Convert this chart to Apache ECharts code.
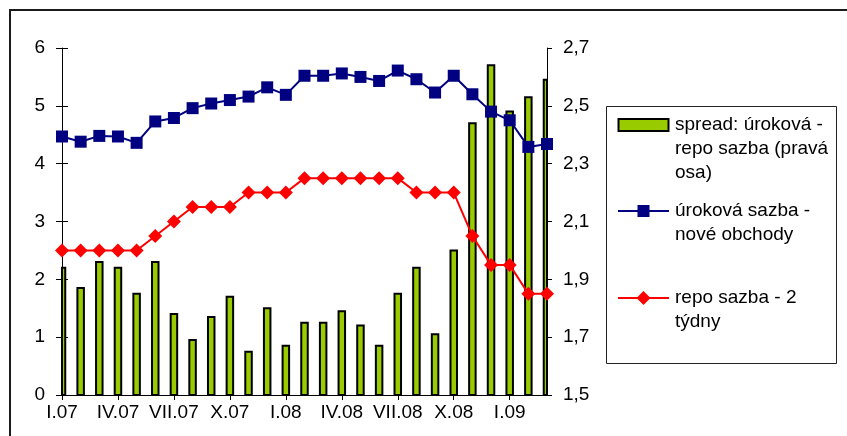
<!DOCTYPE html>
<html>
<head>
<meta charset="utf-8">
<script src="https://cdn.jsdelivr.net/npm/echarts@6/dist/echarts.min.js"></script>
<style>
  html, body { margin: 0; padding: 0; background: #fff; }
  #chart { width: 847px; height: 436px; }
</style>
</head>
<body>
<div id="chart"></div>
<script>
// Months, January 2007 – March 2009
const months = [
  'I.07','II.07','III.07','IV.07','V.07','VI.07','VII.07','VIII.07','IX.07','X.07','XI.07','XII.07',
  'I.08','II.08','III.08','IV.08','V.08','VI.08','VII.08','VIII.08','IX.08','X.08','XI.08','XII.08',
  'I.09','II.09','III.09'
];

// Interest rate on new business (left axis, %)
const lendingRate = [4.47,4.38,4.48,4.47,4.36,4.73,4.79,4.96,5.04,5.10,5.16,5.32,5.19,5.52,
                     5.52,5.56,5.50,5.43,5.61,5.46,5.23,5.52,5.20,4.90,4.75,4.29,4.34];

// 2-week repo rate (left axis, %)
const repoRate = [2.50,2.50,2.50,2.50,2.50,2.75,3.00,3.25,3.25,3.25,3.50,3.50,3.50,3.75,
                  3.75,3.75,3.75,3.75,3.75,3.50,3.50,3.50,2.75,2.25,2.25,1.75,1.75];

// Spread between the two (right axis, p.p.)
const spread = [1.94,1.87,1.96,1.94,1.85,1.96,1.78,1.69,1.77,1.84,1.65,1.80,1.67,1.75,
                1.75,1.79,1.74,1.67,1.85,1.94,1.71,2.00,2.44,2.64,2.48,2.53,2.59];

// Axis ranges
const leftMin = 0, leftMax = 6, leftStep = 1;
const rightBase = 1.5, rightTop = 2.7, rightStep = 0.2;

// Legend entries
const seriesNames = [
  'spread: úroková -\nrepo sazba (pravá\nosa)',
  'úroková sazba -\nnové obchody',
  'repo sazba - 2\ntýdny'
];
const barColor = '#99CC00';
const blueColor = '#000080';
const redColor = '#FF0000';

const FONT = '"Liberation Sans", Arial, sans-serif';
const FS = 19;
const BAR_W = 6.5;

// The right axis is drawn relative to its base so that ticks start on 1,5
const spreadData = spread.map((v, i) => [i, +(v - rightBase).toFixed(4)]);
const fmtComma = v => (v + rightBase).toFixed(1).replace('.', ',');

const chart = echarts.init(document.getElementById('chart'), null, { renderer: 'canvas' });

const axisLineStyle = { color: '#000', width: 1 };

// Columns centred on each month, cut at the plot edges
function renderSpreadBar(params, api) {
  const idx = api.value(0);
  const top = api.coord([idx, api.value(1)]);
  const base = api.coord([idx, 0]);
  const cs = params.coordSys;
  const shape = echarts.graphic.clipRectByRect(
    { x: top[0] - BAR_W / 2, y: top[1], width: BAR_W, height: base[1] - top[1] },
    { x: cs.x, y: cs.y, width: cs.width, height: cs.height }
  );
  if (!shape) return null;
  return {
    type: 'rect',
    shape: shape,
    style: { fill: barColor, stroke: '#000', lineWidth: 2 }
  };
}

// Legend (drawn as graphic elements so that the marker sits beside the first text line)
const LX = 618, LTX = 675;
const legendRows = [125, 211, 298];
const legendGraphics = [
  { type: 'rect', shape: { x: 606.5, y: 106.5, width: 230, height: 257 },
    style: { fill: '#fff', stroke: '#222', lineWidth: 1 }, z: 10 },
  { type: 'rect', shape: { x: LX + 0.5, y: legendRows[0] - 6, width: 50, height: 12 },
    style: { fill: barColor, stroke: '#000', lineWidth: 2 }, z: 11 },
  { type: 'line', shape: { x1: LX, y1: legendRows[1], x2: LX + 51, y2: legendRows[1] },
    style: { stroke: blueColor, lineWidth: 2 }, z: 11 },
  { type: 'rect', shape: { x: LX + 25.5 - 6, y: legendRows[1] - 6, width: 12, height: 12 },
    style: { fill: blueColor }, z: 12 },
  { type: 'line', shape: { x1: LX, y1: legendRows[2], x2: LX + 51, y2: legendRows[2] },
    style: { stroke: redColor, lineWidth: 2 }, z: 11 },
  { type: 'polygon', shape: { points: [[LX + 25.5, legendRows[2] - 7], [LX + 32.5, legendRows[2]],
                                       [LX + 25.5, legendRows[2] + 7], [LX + 18.5, legendRows[2]]] },
    style: { fill: redColor }, z: 12 }
];
seriesNames.forEach((name, i) => {
  legendGraphics.push({
    type: 'text', x: LTX, y: legendRows[i] - 12, z: 12,
    style: { text: name, font: FS + 'px ' + FONT, fill: '#000', lineHeight: 24,
             verticalAlign: 'top', align: 'left' }
  });
});

const option = {
  animation: false,
  backgroundColor: '#fff',
  textStyle: { fontFamily: FONT },
  grid: { left: 62, right: 300, top: 48, bottom: 41, containLabel: false },
  xAxis: [
    {
      type: 'category', data: months, position: 'bottom', boundaryGap: false,
      axisLine: { show: true, lineStyle: axisLineStyle },
      axisTick: { show: true, interval: 2, length: 5, lineStyle: axisLineStyle },
      axisLabel: { interval: 2, color: '#000', fontSize: FS, fontFamily: FONT, margin: 8 },
      splitLine: { show: false }
    },
    {
      // inner half of the crossing tick marks
      type: 'category', data: months, position: 'bottom', boundaryGap: false,
      axisLine: { show: false },
      axisTick: { show: true, inside: true, interval: 2, length: 5, lineStyle: axisLineStyle },
      axisLabel: { show: false },
      splitLine: { show: false }
    }
  ],
  yAxis: [
    {
      type: 'value', position: 'left', min: leftMin, max: leftMax, interval: leftStep,
      axisLine: { show: true, lineStyle: axisLineStyle },
      axisTick: { show: true, length: 6, lineStyle: axisLineStyle },
      axisLabel: { color: '#000', fontSize: FS, fontFamily: FONT, margin: 17 },
      splitLine: { show: false }
    },
    {
      type: 'value', position: 'right', min: 0, max: +(rightTop - rightBase).toFixed(4), interval: rightStep,
      axisLine: { show: true, lineStyle: axisLineStyle },
      axisTick: { show: true, length: 5, lineStyle: axisLineStyle },
      axisLabel: { color: '#000', fontSize: FS, fontFamily: FONT, margin: 16, formatter: fmtComma },
      splitLine: { show: false }
    },
    {
      // inner half of the crossing tick marks on the left axis
      type: 'value', position: 'left', min: leftMin, max: leftMax, interval: leftStep,
      axisLine: { show: false },
      axisTick: { show: true, inside: true, length: 6, lineStyle: axisLineStyle },
      axisLabel: { show: false },
      splitLine: { show: false }
    }
  ],
  series: [
    {
      name: seriesNames[0], type: 'custom', xAxisIndex: 0, yAxisIndex: 1,
      data: spreadData, encode: { x: 0, y: 1 }, renderItem: renderSpreadBar, z: 2
    },
    {
      name: seriesNames[1], type: 'line', xAxisIndex: 0, yAxisIndex: 0,
      data: lendingRate, symbol: 'rect', symbolSize: 12, showAllSymbol: true, z: 4,
      lineStyle: { color: blueColor, width: 2 },
      itemStyle: { color: blueColor }
    },
    {
      name: seriesNames[2], type: 'line', xAxisIndex: 0, yAxisIndex: 0,
      data: repoRate, symbol: 'diamond', symbolSize: [14, 14], showAllSymbol: true, z: 3,
      lineStyle: { color: redColor, width: 2 },
      itemStyle: { color: redColor }
    }
  ],
  graphic: [
    // outer chart frame
    { type: 'rect', shape: { x: 10, y: 10, width: 900, height: 500 },
      style: { fill: 'none', stroke: '#1a1a1a', lineWidth: 2 }, z: 0, silent: true }
  ].concat(legendGraphics)
};

chart.setOption(option);
</script>
</body>
</html>
